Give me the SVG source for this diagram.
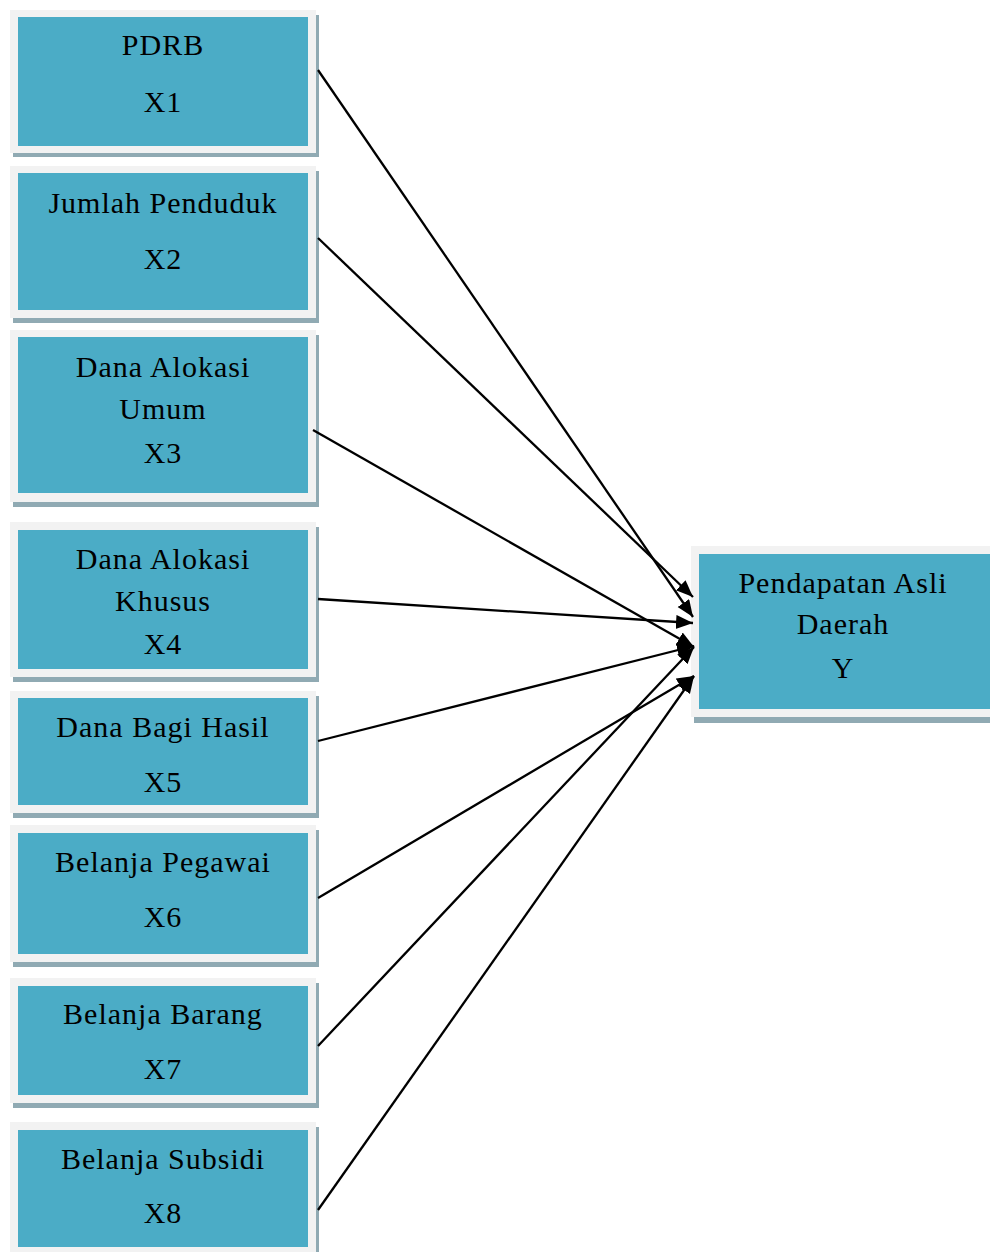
<svg xmlns="http://www.w3.org/2000/svg" width="990" height="1252" viewBox="0 0 990 1252">
<defs>
<style>
.sh{fill:#90aab3}
.fr{fill:#f2f2f2}
.in{fill:#4bacc6}
.t{font-family:"Liberation Serif","Times New Roman",serif;font-size:30px;letter-spacing:1px;fill:#000;text-anchor:middle}
.c{stroke:#000;stroke-width:2.3;fill:none;marker-end:url(#ah)}
</style>
<marker id="ah" markerUnits="userSpaceOnUse" markerWidth="20" markerHeight="16" refX="17" refY="7" orient="auto">
<path d="M0,0 L17,7 L0,14 z" fill="#000"/>
</marker>
</defs>
<rect width="990" height="1252" fill="#fff"/>
<g id="n1">
<rect class="sh" x="13" y="15" width="306" height="142"/>
<rect class="fr" x="10" y="10" width="306" height="143"/>
<rect class="in" x="18" y="17" width="290" height="129"/>
<text class="t" x="163" y="55">PDRB</text>
<text class="t" x="163" y="112">X1</text>
</g>
<g id="n2">
<rect class="sh" x="13" y="171" width="306" height="152"/>
<rect class="fr" x="10" y="166" width="306" height="152"/>
<rect class="in" x="18" y="173" width="290" height="137"/>
<text class="t" x="163" y="213">Jumlah Penduduk</text>
<text class="t" x="163" y="269">X2</text>
</g>
<g id="n3">
<rect class="sh" x="13" y="335" width="306" height="172"/>
<rect class="fr" x="10" y="330" width="306" height="172"/>
<rect class="in" x="18" y="337" width="290" height="156"/>
<text class="t" x="163" y="377">Dana Alokasi</text>
<text class="t" x="163" y="419">Umum</text>
<text class="t" x="163" y="463">X3</text>
</g>
<g id="n4">
<rect class="sh" x="13" y="527" width="306" height="155"/>
<rect class="fr" x="10" y="522" width="306" height="155"/>
<rect class="in" x="18" y="530" width="290" height="139"/>
<text class="t" x="163" y="569">Dana Alokasi</text>
<text class="t" x="163" y="611">Khusus</text>
<text class="t" x="163" y="654">X4</text>
</g>
<g id="n5">
<rect class="sh" x="13" y="696" width="306" height="122"/>
<rect class="fr" x="10" y="691" width="306" height="122"/>
<rect class="in" x="18" y="698" width="290" height="107"/>
<text class="t" x="163" y="737">Dana Bagi Hasil</text>
<text class="t" x="163" y="792">X5</text>
</g>
<g id="n6">
<rect class="sh" x="13" y="830" width="306" height="137"/>
<rect class="fr" x="10" y="825" width="306" height="137"/>
<rect class="in" x="18" y="833" width="290" height="121"/>
<text class="t" x="163" y="872">Belanja Pegawai</text>
<text class="t" x="163" y="927">X6</text>
</g>
<g id="n7">
<rect class="sh" x="13" y="983" width="306" height="125"/>
<rect class="fr" x="10" y="978" width="306" height="125"/>
<rect class="in" x="18" y="986" width="290" height="109"/>
<text class="t" x="163" y="1024">Belanja Barang</text>
<text class="t" x="163" y="1079">X7</text>
</g>
<g id="n8">
<rect class="sh" x="13" y="1127" width="306" height="135"/>
<rect class="fr" x="10" y="1122" width="306" height="135"/>
<rect class="in" x="18" y="1130" width="290" height="117"/>
<text class="t" x="163" y="1169">Belanja Subsidi</text>
<text class="t" x="163" y="1223">X8</text>
</g>
<g id="ny">
<rect class="sh" x="694" y="551" width="310" height="172"/>
<rect class="fr" x="691" y="546" width="310" height="171"/>
<rect class="in" x="699" y="554" width="300" height="155"/>
<text class="t" x="843" y="593">Pendapatan Asli</text>
<text class="t" x="843" y="634">Daerah</text>
<text class="t" x="843" y="678">Y</text>
</g>
<g id="connectors">
<line class="c" x1="318" y1="70" x2="693" y2="617"/>
<line class="c" x1="318" y1="238" x2="693" y2="597"/>
<line class="c" x1="313" y1="430" x2="694" y2="647"/>
<line class="c" x1="318" y1="599" x2="693" y2="623"/>
<line class="c" x1="318" y1="741" x2="694" y2="646"/>
<line class="c" x1="318" y1="898" x2="694" y2="676"/>
<line class="c" x1="318" y1="1046" x2="694" y2="647"/>
<line class="c" x1="318" y1="1210" x2="694" y2="676"/>
</g>
</svg>
